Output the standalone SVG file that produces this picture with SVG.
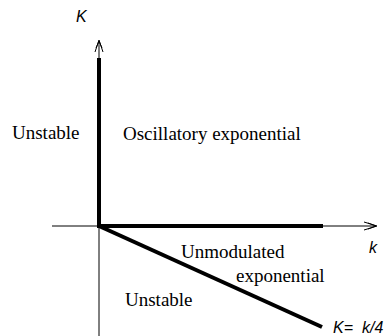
<svg xmlns="http://www.w3.org/2000/svg" width="390" height="336" viewBox="0 0 390 336">
<style>
.ax{stroke:#000;stroke-width:1;fill:none}
.th{stroke:#000;stroke-width:4;fill:none;stroke-linecap:butt}
.lb{font-family:"Liberation Serif","Times New Roman",serif;font-size:19px;fill:#000}
.it{font-family:"Liberation Sans",Arial,sans-serif;font-style:italic;font-size:16px;fill:#000}
</style>
<rect width="390" height="336" fill="#fff"/>
<g id="connectors">
<line class="ax" x1="99" y1="41" x2="99" y2="336"/>
<path class="ax" d="M95,52 L99,40 L103,52 M96,48 L99,41 L102,48"/>
<line class="ax" x1="52" y1="226" x2="376" y2="226"/>
<path class="ax" d="M364,222 L377,226 L364,230 M368,223 L376,226 L368,229"/>
<line class="th" x1="99" y1="58" x2="99" y2="228"/>
<line class="th" x1="97" y1="226" x2="323" y2="226"/>
<line class="th" x1="99" y1="226" x2="322" y2="327"/>
</g>
<g id="axis-K"><text class="it" x="76" y="22">K</text></g>
<g id="axis-k"><text class="it" x="369" y="253">k</text></g>
<g id="region-unstable-top"><text class="lb" x="12" y="139">Unstable</text></g>
<g id="region-oscillatory"><text class="lb" x="123" y="140">Oscillatory exponential</text></g>
<g id="region-unmodulated"><text class="lb" x="181" y="258">Unmodulated</text><text class="lb" x="236" y="282">exponential</text></g>
<g id="region-unstable-bottom"><text class="lb" x="125" y="306">Unstable</text></g>
<g id="line-label"><text class="it" x="333" y="333">K= <tspan x="362">k/4</tspan></text></g>
</svg>
